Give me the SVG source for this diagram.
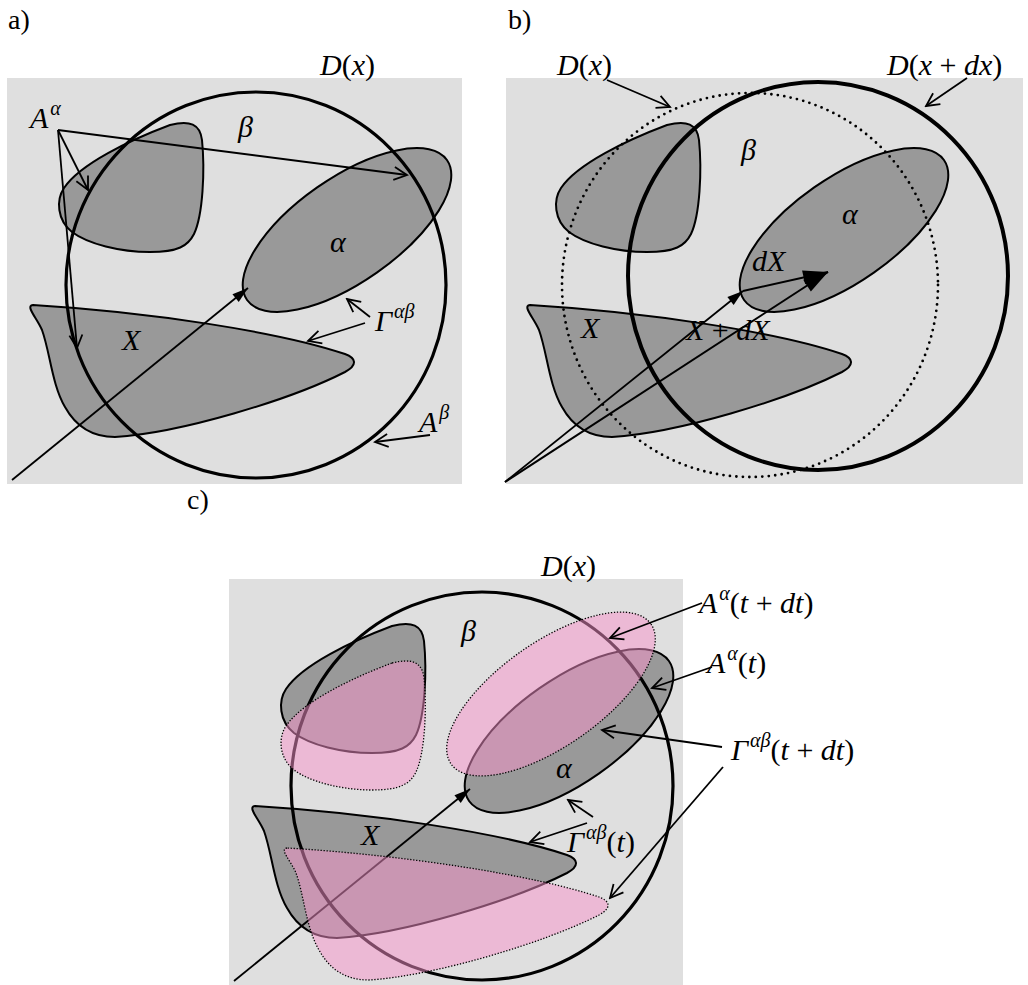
<svg xmlns="http://www.w3.org/2000/svg" width="1028" height="985" viewBox="0 0 1028 985">
<style>
.bg{fill:#dfdfdf}
.dark{fill:#999;stroke:#000;stroke-width:2}
.pink{fill:#f993cb;fill-opacity:.5;stroke:#000;stroke-width:1.3;stroke-dasharray:1.3 1.7}
.ring{fill:none;stroke:#000;stroke-width:3.2}
.ring2{fill:none;stroke:#000;stroke-width:4}
.dots{fill:none;stroke:#000;stroke-width:2.8;stroke-dasharray:0 6.5;stroke-linecap:round}
.lead{fill:none;stroke:#000;stroke-width:1.8;marker-end:url(#open)}
.vec{fill:none;stroke:#000;stroke-width:1.8;marker-end:url(#solid)}
.vecB{fill:none;stroke:#000;stroke-width:2;marker-end:url(#big)}
text{font-family:"Liberation Serif","Times New Roman",serif;fill:#000}
.m{font-size:30px;font-style:italic}
.u{font-style:normal}
.s{font-size:20px}
.p{font-size:28px}
</style>
<defs>
<marker id="open" viewBox="-16 -9 18 18" refX="0" refY="0" markerWidth="18" markerHeight="18" orient="auto" markerUnits="userSpaceOnUse"><path d="M-13,-6.5 L0,0 L-13,6.5" fill="none" stroke="#000" stroke-width="1.8"/></marker>
<marker id="solid" viewBox="-17 -6 18 12" refX="0" refY="0" markerWidth="18" markerHeight="12" orient="auto" markerUnits="userSpaceOnUse"><path d="M-16,-5 L0,0 L-16,5 Z" fill="#000"/></marker>
<marker id="big" viewBox="-27 -8 28 16" refX="0" refY="0" markerWidth="28" markerHeight="16" orient="auto" markerUnits="userSpaceOnUse"><path d="M-25,-7 L0,0 L-25,7 Z" fill="#000"/></marker>
<path id="blobA" d="M170,125 C190,120 200,124 202,140 C205,170 203,215 194,234 C188,246 178,252 150,252 C120,252 88,244 72,232 C57,220 56,200 64,188 C80,164 130,140 170,125 Z"/>
<ellipse id="blobAl" cx="347" cy="230" rx="122" ry="52" transform="rotate(-35 347 230)"/>
<path id="blobX" d="M33,305 C25,306 37,318 42,330 C50,352 52,385 65,407 C75,425 90,437 115,437 C180,433 290,400 345,372 C358,365 356,358 345,354 C280,332 150,312 33,305 Z"/>
</defs>

<g id="panel-a">
<rect class="bg" x="7" y="78" width="455" height="406"/>
<g id="a-phaseA"><use href="#blobA" class="dark"/></g>
<g id="a-alpha"><use href="#blobAl" class="dark"/></g>
<g id="a-X"><use href="#blobX" class="dark"/></g>
<ellipse id="a-D" class="ring" cx="256" cy="285" rx="190" ry="193"/>
<g id="a-connectors">
<path class="vec" d="M12,480 L248,288"/>
<path class="lead" d="M58,130 L407,175"/>
<path class="lead" d="M58,130 L88,190"/>
<path class="lead" d="M58,130 L77,348"/>
<path class="lead" d="M370,317 L347,299"/>
<path class="lead" d="M365,323 L308,341"/>
<path class="lead" d="M430,435 L375,442"/>
</g>
<g id="a-labels">
<text class="p" x="8" y="29">a)</text>
<text class="m" x="320" y="75">D<tspan class="u">(</tspan>x<tspan class="u">)</tspan></text>
<text class="m" x="30" y="128">A<tspan class="s" dx="2" dy="-13">α</tspan></text>
<text class="m" x="238" y="137">β</text>
<text class="m" x="330" y="252">α</text>
<text class="m" x="122" y="350">X</text>
<text class="m" x="375" y="331">Γ<tspan class="s" dx="2" dy="-13">αβ</tspan></text>
<text class="m" x="419" y="432">A<tspan class="s" dx="2" dy="-13">β</tspan></text>
</g>
</g>

<g id="panel-b">
<rect class="bg" x="506" y="78" width="517" height="406"/>
<g id="b-phaseA"><use href="#blobA" class="dark" transform="translate(497,0)"/></g>
<g id="b-alpha"><use href="#blobAl" class="dark" transform="translate(497,0)"/></g>
<g id="b-X"><use href="#blobX" class="dark" transform="translate(497,0)"/></g>
<ellipse id="b-Dx" class="dots" cx="750" cy="285" rx="188" ry="192"/>
<ellipse id="b-Dxdx" class="ring2" cx="818" cy="276" rx="190" ry="194"/>
<g id="b-connectors">
<path class="vec" d="M505,482 L743,291"/>
<path class="vecB" d="M505,482 L828,272"/>
<path class="vecB" d="M743,291 L828,272"/>
<path class="lead" d="M607,80 L670,107"/>
<path class="lead" d="M967,78 L926,106"/>
</g>
<g id="b-labels">
<text class="p" x="508" y="29">b)</text>
<text class="m" x="557" y="75">D<tspan class="u">(</tspan>x<tspan class="u">)</tspan></text>
<text class="m" x="887" y="75">D<tspan class="u">(</tspan>x <tspan class="u">+</tspan> dx<tspan class="u">)</tspan></text>
<text class="m" x="741" y="160">β</text>
<text class="m" x="842" y="224">α</text>
<text class="m" x="752" y="271">dX</text>
<text class="m" x="581" y="338">X</text>
<text class="m" x="686" y="340">X <tspan class="u">+</tspan> dX</text>
</g>
</g>

<g id="panel-c">
<rect class="bg" x="229" y="579" width="454" height="406"/>
<g id="c-phaseA"><use href="#blobA" class="dark" transform="translate(222,501)"/></g>
<g id="c-alpha"><use href="#blobAl" class="dark" transform="translate(222,501)"/></g>
<g id="c-X"><use href="#blobX" class="dark" transform="translate(222,501)"/></g>
<ellipse id="c-D" class="ring" cx="482" cy="786" rx="191" ry="194"/>
<path class="vec" d="M234,981 L470,789"/>
<g id="c-phaseA-dt"><use href="#blobA" class="pink" transform="translate(222,538)"/></g>
<g id="c-alpha-dt"><use href="#blobAl" class="pink" transform="translate(204,464)"/></g>
<g id="c-X-dt"><use href="#blobX" class="pink" transform="translate(254,543)"/></g>
<g id="c-connectors">
<path class="lead" d="M593,817 L568,800"/>
<path class="lead" d="M587,823 L530,842"/>
<path class="lead" d="M702,603 L610,638"/>
<path class="lead" d="M712,667 L652,688"/>
<path class="lead" d="M722,747 L602,730"/>
<path class="lead" d="M723,767 L610,898"/>
</g>
<g id="c-labels">
<text class="p" x="187" y="509">c)</text>
<text class="m" x="541" y="576">D<tspan class="u">(</tspan>x<tspan class="u">)</tspan></text>
<text class="m" x="461" y="641">β</text>
<text class="m" x="556" y="778">α</text>
<text class="m" x="361" y="845">X</text>
<text class="m" x="567" y="852">Γ<tspan class="s" dx="2" dy="-13">αβ</tspan><tspan class="u" dy="13">(</tspan>t<tspan class="u">)</tspan></text>
<text class="m" x="699" y="613">A<tspan class="s" dx="2" dy="-13">α</tspan><tspan class="u" dy="13">(</tspan>t <tspan class="u">+</tspan> dt<tspan class="u">)</tspan></text>
<text class="m" x="707" y="673">A<tspan class="s" dx="2" dy="-13">α</tspan><tspan class="u" dy="13">(</tspan>t<tspan class="u">)</tspan></text>
<text class="m" x="731" y="760">Γ<tspan class="s" dx="2" dy="-13">αβ</tspan><tspan class="u" dy="13">(</tspan>t <tspan class="u">+</tspan> dt<tspan class="u">)</tspan></text>
</g>
</g>
</svg>
